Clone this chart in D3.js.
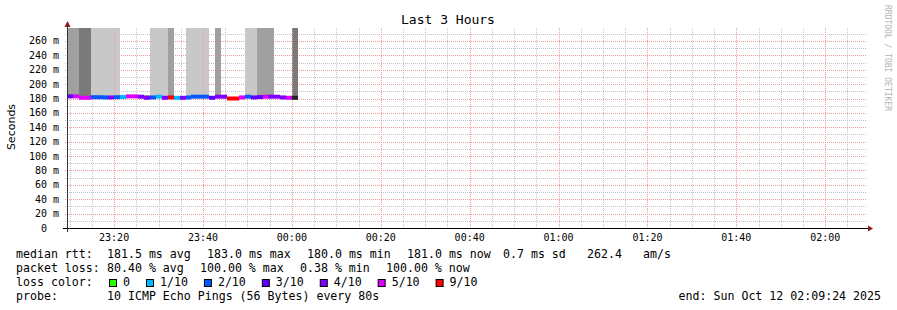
<!DOCTYPE html>
<html><head><meta charset="utf-8">
<script src="https://cdn.jsdelivr.net/npm/d3@7"></script>
<style>
body{margin:0;background:#fff}
svg{display:block}
text{font-family:"DejaVu Sans Mono",monospace;fill:#000}
</style>
</head><body>
<svg id="c" width="897" height="310"></svg>
<script>
// ---------- data ----------
const chartTitle = "Last 3 Hours";
const yAxisTitle = "Seconds";
const watermark = "RRDTOOL / TOBI OETIKER";
const yTickValues = [0,20,40,60,80,100,120,140,160,180,200,220,240,260]; // ms
const yTickLabels = ["0","20 m","40 m","60 m","80 m","100 m","120 m","140 m","160 m","180 m","200 m","220 m","240 m","260 m"];
const rangeStart = Date.UTC(2025,9,11,23,9,24);
const rangeEnd   = Date.UTC(2025,9,12,2,9,24);
const stepSeconds = 80;

const lossLabels = ["0","1/10","2/10","3/10","4/10","5/10","9/10"];
const lossColors = ["#26ff00","#00b8ff","#0059ff","#5e00ff","#7e00ff","#dd00ff","#ff0000"];
const noLossInfoColor = "#202020";

// per 80 s step: loss colour index (7 = dark), median rtt (ms), smoke shade (0 none,1 light,2 mid,3 dark), smoke top (ms), small smoke top (ms)
const lossIdx   = [3,5,5,5,2,2,2,4,2,1,5,5,4,4,2,1,4,6,1,4,2,2,2,2,3,4,4,6,6,5,2,3,3,5,4,4,4,5,7];
const medianMs  = [183,183,181,181,181.8,181.8,181.5,181.5,181.8,182,183,183,182.5,181,181.5,182.5,181,181.5,181,181,181.5,182.5,182.5,182.5,181,182.5,182.5,180,180,181.5,182.5,181.5,182,182.5,182.5,182.5,181.5,181,181];
const smokeShade= [2,2,3,3,1,1,1,1,1,0,0,0,0,0,1,1,1,2,0,0,1,1,1,1,0,2,0,0,0,0,1,1,2,2,2,0,0,0,3];
const smokeTopMs= [300,300,300,300,300,300,300,300,300,0,0,0,0,0,300,300,300,300,0,0,300,300,300,300,0,300,0,0,0,0,300,300,300,300,300,0,0,0,300];
const smokeBitMs= [0,0,0,0,0,0,183.5,0,0,0,0,0,0,184.5,0,0,0,0,0,0,0,0,0,0,183.5,0,0,0,0,0,0,183.5,0,0,0,0,0,0,0];

const rttLegend  = ["median rtt:","181.5 ms avg","183.0 ms max","180.0 ms min","181.0 ms now","0.7 ms sd","262.4","am/s"];
const lossLegend = ["packet loss:","80.40 % avg","100.00 % max","0.38 % min","100.00 % now"];
const colorLegendTitle = "loss color:";
const probeLegend = ["probe:","10 ICMP Echo Pings (56 Bytes) every 80s"];
const endLabel = "end: Sun Oct 12 02:09:24 2025";

// ---------- layout ----------
const L = 67, R = 867, T = 28, B = 228;
const shadeColors = [null,"#c8c8c8","#a0a0a0","#7a7a7a"];
const svg = d3.select("#c");
const x = d3.scaleUtc().domain([new Date(rangeStart), new Date(rangeEnd)]).range([L, R]);
const y = d3.scaleLinear().domain([0, 278]).range([B, T]);
const fmt = d3.utcFormat("%H:%M");

const grid = svg.append("g");
const minorX = x.ticks(d3.utcMinute.every(5));
const majorX = x.ticks(d3.utcMinute.every(20));
const majorSet = new Set(majorX.map(d=>+d));
grid.selectAll("line.mvx").data(minorX.filter(d=>!majorSet.has(+d))).join("line")
  .attr("x1",d=>Math.round(x(d))+0.5).attr("x2",d=>Math.round(x(d))+0.5)
  .attr("y1",T).attr("y2",B+2)
  .attr("stroke","#c4c4c4").attr("stroke-dasharray","1,1");
const minorY = d3.range(10, 278, 20);
grid.selectAll("line.mhy").data(minorY).join("line")
  .attr("x1",L-2).attr("x2",R)
  .attr("y1",d=>Math.round(y(d))+0.5).attr("y2",d=>Math.round(y(d))+0.5)
  .attr("stroke","#c4c4c4").attr("stroke-dasharray","1,1");
grid.selectAll("line.Mhy").data(yTickValues.filter(v=>v>0)).join("line")
  .attr("x1",L-2).attr("x2",R)
  .attr("y1",d=>Math.round(y(d))+0.5).attr("y2",d=>Math.round(y(d))+0.5)
  .attr("stroke","#f09a9a").attr("stroke-dasharray","1,1");

// smoke
const steps = lossIdx.map((l,i)=>({
  t0: new Date(rangeStart + i*stepSeconds*1000),
  t1: new Date(rangeStart + (i+1)*stepSeconds*1000),
  loss:l, med:medianMs[i], shade:smokeShade[i], top:smokeTopMs[i], bit:smokeBitMs[i]
}));
const sx = d=>Math.round(x(d.t0)), sw = d=>Math.round(x(d.t1))-Math.round(x(d.t0));
svg.append("g").selectAll("rect").data(steps.filter(d=>d.shade>0)).join("rect")
  .attr("x",sx).attr("width",sw)
  .attr("y",d=>y(Math.min(d.top,278)))
  .attr("height",d=>y(d.med)-y(Math.min(d.top,278)))
  .attr("fill",d=>shadeColors[d.shade]);
svg.append("g").selectAll("rect").data(steps.filter(d=>d.bit>0)).join("rect")
  .attr("x",sx).attr("width",sw)
  .attr("y",d=>y(d.bit)).attr("height",d=>y(d.med)-y(d.bit))
  .attr("fill","#8a8a8a");

svg.append("g").selectAll("line").data(majorX).join("line")
  .attr("x1",d=>Math.round(x(d))+0.5).attr("x2",d=>Math.round(x(d))+0.5)
  .attr("y1",T).attr("y2",B+2)
  .attr("stroke","#f09a9a").attr("stroke-dasharray","1,1");

// median line
svg.append("g").selectAll("rect").data(steps).join("rect")
  .attr("x",sx).attr("width",sw)
  .attr("y",d=>y(d.med)-2).attr("height",4)
  .attr("fill",d=>d.loss===7?noLossInfoColor:lossColors[d.loss]);

// axes
svg.append("line").attr("x1",L-4).attr("x2",R+2).attr("y1",B+0.5).attr("y2",B+0.5).attr("stroke","#000");
svg.append("line").attr("x1",L+0.5).attr("x2",L+0.5).attr("y1",B+4).attr("y2",T-2).attr("stroke","#333");
svg.append("path").attr("d",`M${R+1},${B-2.5} L${R+6},${B+0.5} L${R+1},${B+3.5} Z`).attr("fill","#8b1a1a");
svg.append("path").attr("d",`M${L-2.5},${T-1} L${L+0.5},${T-7} L${L+3.5},${T-1} Z`).attr("fill","#8b1a1a");

// axis labels
svg.append("g").selectAll("text").data(majorX).join("text")
  .attr("x",d=>x(d)).attr("y",241).attr("text-anchor","middle")
  .attr("font-size","10px").style("fill","#000").text(d=>fmt(d));
svg.append("g").selectAll("text").data(yTickValues).join("text")
  .attr("x",(d,i)=>yTickLabels[i].length===1?47:59).attr("y",d=>y(d)+3.5)
  .attr("text-anchor","end").attr("font-size","10px").style("fill","#000")
  .text((d,i)=>yTickLabels[i]);

// titles
svg.append("text").attr("x",448).attr("y",24).attr("text-anchor","middle")
  .attr("font-size","13px").text(chartTitle);
svg.append("text").attr("transform","translate(15,127) rotate(-90)")
  .attr("text-anchor","middle").attr("font-size","11px")
  .style("font-family","'DejaVu Sans',sans-serif").text(yAxisTitle);
svg.append("text").attr("transform","translate(885,5) rotate(90)")
  .attr("font-size","8px").style("fill","#b4b4b4").text(watermark);

// legend
const lf = "11.6px";
const rttX = [16,107,207,307,407,503,587,643];
rttLegend.forEach((s,i)=>svg.append("text").attr("x",rttX[i]).attr("y",258).attr("font-size",lf).text(s));
const lossX = [16,107,200,300,386];
lossLegend.forEach((s,i)=>svg.append("text").attr("x",lossX[i]).attr("y",272).attr("font-size",lf).text(s));
svg.append("text").attr("x",16).attr("y",286).attr("font-size",lf).text(colorLegendTitle);
let bx = 109;
lossLabels.forEach((s,i)=>{
  svg.append("rect").attr("x",bx+0.5).attr("y",279.5).attr("width",7).attr("height",7)
    .attr("fill",lossColors[i]).attr("stroke","#000");
  const t = svg.append("text").attr("x",bx+14).attr("y",286).attr("font-size",lf).text(s);
  bx = bx + 14 + t.node().getComputedTextLength() + 16;
});
svg.append("text").attr("x",16).attr("y",300).attr("font-size",lf).text(probeLegend[0]);
svg.append("text").attr("x",107).attr("y",300).attr("font-size",lf).text(probeLegend[1]);
svg.append("text").attr("x",881).attr("y",300).attr("text-anchor","end").attr("font-size",lf).text(endLabel);
</script>
</body></html>
